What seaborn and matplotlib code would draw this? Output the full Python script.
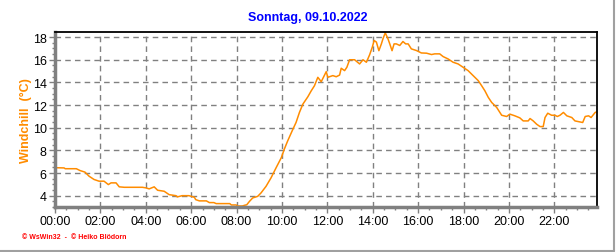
import matplotlib
matplotlib.use("Agg")
import matplotlib.pyplot as plt
from matplotlib.ticker import MultipleLocator, FixedLocator
import seaborn as sns
import pandas as pd

hours = [0.0, 0.4, 0.45, 0.94, 1.1, 1.32, 1.5, 1.72, 1.94, 2.16, 2.35, 2.47, 2.69, 2.83,
         3.05, 3.85, 4.0, 4.15, 4.37, 4.52, 4.81, 5.03, 5.33, 5.39, 5.6, 5.9, 6.14, 6.2,
         6.36, 6.67, 6.8, 7.0, 7.1, 7.7, 7.77, 7.98, 8.05, 8.26, 8.35, 8.45, 8.57, 8.71,
         8.93, 9.08, 9.3, 9.52, 9.74, 9.97, 10.1, 10.25, 10.48, 10.62, 10.77, 10.92, 11.14,
         11.29, 11.43, 11.58, 11.73, 11.95, 12.02, 12.24, 12.39, 12.54, 12.61, 12.76, 12.86,
         12.98, 13.2, 13.42, 13.57, 13.72, 13.86, 13.98, 14.06, 14.16, 14.27, 14.38, 14.45,
         14.55, 14.67, 14.75, 14.85, 14.94, 15.04, 15.19, 15.33, 15.45, 15.56, 15.7, 15.93,
         16.14, 16.37, 16.59, 16.73, 16.95, 17.1, 17.32, 17.54, 17.76, 17.98, 18.2, 18.42,
         18.65, 18.8, 18.94, 19.09, 19.24, 19.46, 19.68, 19.9, 20.04, 20.26, 20.48, 20.63,
         20.85, 20.93, 21.07, 21.22, 21.37, 21.51, 21.59, 21.71, 21.88, 22.03, 22.13, 22.25,
         22.4, 22.55, 22.77, 22.91, 23.13, 23.25, 23.36, 23.51, 23.62, 23.8, 23.88]
windchill = [6.47, 6.45, 6.38, 6.38, 6.22, 6.08, 5.72, 5.43, 5.28, 5.28, 4.98, 5.13, 5.13, 4.78,
             4.74, 4.74, 4.69, 4.6, 4.78, 4.48, 4.39, 4.09, 4.0, 3.89, 4.0, 4.0, 3.86, 3.65,
             3.54, 3.54, 3.39, 3.39, 3.3, 3.3, 3.18, 3.18, 3.09, 3.09, 3.15, 3.2, 3.5, 3.8,
             3.94, 4.25, 4.83, 5.58, 6.46, 7.35, 8.09, 8.83, 9.86, 10.46, 11.35, 12.08, 12.73,
             13.26, 13.7, 14.45, 14.06, 14.95, 14.45, 14.6, 14.5, 14.65, 15.25, 15.04, 15.34,
             16.0, 16.0, 15.63, 16.0, 15.78, 16.43, 17.11, 17.7, 17.56, 16.8, 17.4, 17.85,
             18.38, 17.85, 17.4, 16.8, 17.4, 17.4, 17.26, 17.61, 17.4, 17.4, 16.96, 16.81,
             16.6, 16.58, 16.46, 16.52, 16.52, 16.28, 16.07, 15.78, 15.63, 15.34, 15.04, 14.6,
             14.15, 13.7, 13.26, 12.68, 12.23, 11.79, 11.1, 10.99, 11.2, 11.05, 10.87, 10.6,
             10.6, 10.81, 10.6, 10.31, 10.1, 10.1, 10.9, 11.28, 11.1, 11.1, 10.99, 11.1,
             11.35, 11.05, 10.9, 10.6, 10.51, 10.46, 10.99, 11.05, 10.9, 11.35, 11.4]
tick_hours = [0, 2, 4, 6, 8, 10, 12, 14, 16, 18, 20, 22]
tick_labels = ["00:00", "02:00", "04:00", "06:00", "08:00", "10:00",
               "12:00", "14:00", "16:00", "18:00", "20:00", "22:00"]
y_ticks = [4, 6, 8, 10, 12, 14, 16, 18]
title = "Sonntag, 09.10.2022"
ylabel = "Windchill  (°C)"
footer = "© WsWin32  -  © Heiko Blödorn"

sns.set_style("white")
plt.rcParams['font.family'] = ['Liberation Sans', 'DejaVu Sans']

df = pd.DataFrame({"h": hours, "v": windchill})

fig = plt.figure(figsize=(6.16, 2.53), dpi=100)
ax = fig.add_axes([55/616, 1-208/253, (597-55)/616, (208-33)/253])

sns.lineplot(data=df, x="h", y="v", ax=ax, color="#ff8c00", linewidth=1.1,
             estimator=None, sort=False)

ax.set_xlim(0, 23.88)
ax.set_ylim(3.0, 18.45)
ax.xaxis.set_major_locator(FixedLocator(tick_hours))
ax.set_xticklabels(tick_labels)
ax.xaxis.set_minor_locator(MultipleLocator(0.5))
ax.yaxis.set_major_locator(FixedLocator(y_ticks))
ax.yaxis.set_minor_locator(MultipleLocator(0.5))

ax.grid(True, which='major', linestyle=(0, (4, 3)), color='#808080', linewidth=1)
ax.tick_params(axis='both', which='major', direction='out', length=4, width=1,
               color='#808080', labelsize=9, labelcolor='black', pad=2, bottom=True, left=True)
ax.tick_params(axis='both', which='minor', direction='out', length=2.5, width=1,
               color='#808080', bottom=True, left=True)

for s in ['left', 'bottom']:
    ax.spines[s].set_color('#808080')
    ax.spines[s].set_linewidth(2.5)
for s in ['top', 'right']:
    ax.spines[s].set_color('black')
    ax.spines[s].set_linewidth(1.3)

ax.set_xlabel("")
ax.set_ylabel(ylabel, color="#ff8c00", fontsize=9, fontweight='bold', labelpad=0.5)

fig.text(308/616, 1-18/253, title, color="#0000ff", fontsize=9, fontweight='bold',
         ha='center', va='center')
fig.text(22/616, 1-238/253, footer, color="#ff0000", fontsize=5, fontweight='bold',
         ha='left', va='center')

# figure border (right and bottom)
fig.add_artist(plt.Line2D([613.5/616, 613.5/616], [1-252/253, 1.0], color='#a0a0a0',
                          linewidth=1.5, transform=fig.transFigure))
fig.add_artist(plt.Line2D([0, 613.5/616], [1-251.5/253, 1-251.5/253], color='#a0a0a0',
                          linewidth=1.5, transform=fig.transFigure))

fig.savefig("out.png", dpi=100)
